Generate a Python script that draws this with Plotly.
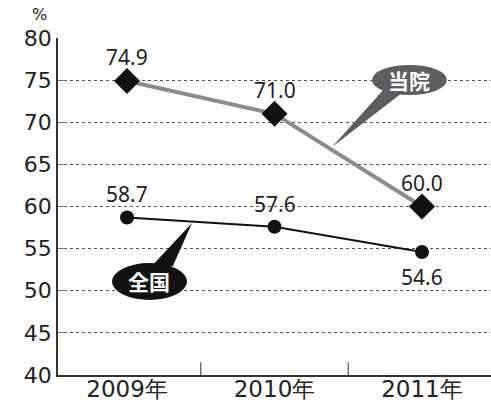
import plotly.graph_objects as go

categories = ["2009年", "2010年", "2011年"]
hospital = [74.9, 71.0, 60.0]
national = [58.7, 57.6, 54.6]
y_ticks = [40, 45, 50, 55, 60, 65, 70, 75, 80]

FONT = "Noto Sans CJK JP"
NUMFONT = "DejaVu Sans"
VALFONT = "Noto Sans"
xs = list(range(len(categories)))

fig = go.Figure()
fig.add_trace(go.Scatter(
    x=xs, y=hospital, mode="lines+markers",
    line=dict(color="#8c8c8c", width=4),
    marker=dict(symbol="diamond", size=20, color="#111111"),
    cliponaxis=False, showlegend=False, hoverinfo="skip"))
fig.add_trace(go.Scatter(
    x=xs, y=national, mode="lines+markers",
    line=dict(color="#111111", width=2),
    marker=dict(symbol="circle", size=14, color="#111111"),
    cliponaxis=False, showlegend=False, hoverinfo="skip"))

shapes = []
# category separators
for sx in [0.5, 1.5]:
    shapes.append(dict(type="line", xref="x", yref="y", x0=sx, x1=sx, y0=40, y1=41.5,
                       line=dict(color="#555555", width=1.2)))
# 当院 callout
shapes.append(dict(type="path", xref="x", yref="y",
                   path="M 1.74,73.9 L 1.86,73.4 L 1.39,67.06 Z",
                   fillcolor="#5e5e5e", line=dict(width=0)))
shapes.append(dict(type="circle", xref="x", yref="y", x0=1.661, x1=2.169, y0=73.23, y1=76.80,
                   fillcolor="#5e5e5e", line=dict(width=0)))
# 全国 callout
shapes.append(dict(type="path", xref="x", yref="y",
                   path="M 0.15,52.6 L 0.31,52.9 L 0.441,58.04 Z",
                   fillcolor="#111111", line=dict(width=0)))
shapes.append(dict(type="circle", xref="x", yref="y", x0=-0.102, x1=0.407, y0=48.90, y1=53.29,
                   fillcolor="#111111", line=dict(width=0)))

annotations = []
for x, v in zip(xs, hospital):
    annotations.append(dict(x=x, y=v, xref="x", yref="y", text=f"{v:.1f}", showarrow=False,
                            yshift=24, font=dict(size=21, color="#222222", family=VALFONT)))
for x, v, s in zip(xs, national, [23, 23, -25]):
    annotations.append(dict(x=x, y=v, xref="x", yref="y", text=f"{v:.1f}", showarrow=False,
                            yshift=s, font=dict(size=21, color="#222222", family=VALFONT)))
annotations += [
    dict(x=1.915, y=75.0, xref="x", yref="y", text="<b>当院</b>", showarrow=False,
         font=dict(size=21, color="white", family=FONT)),
    dict(x=0.152, y=51.1, xref="x", yref="y", text="<b>全国</b>", showarrow=False,
         font=dict(size=21, color="white", family=FONT)),
    dict(x=-0.042, y=1.0, xref="paper", yref="paper", text="%", showarrow=False,
         xanchor="center", yanchor="bottom", yshift=12,
         font=dict(size=16, color="#222222", family=NUMFONT)),
]

fig.update_layout(
    width=491, height=405,
    margin=dict(l=58, r=0, t=38, b=30, autoexpand=False),
    paper_bgcolor="white", plot_bgcolor="white",
    font=dict(family=FONT, color="#222222"),
    shapes=shapes, annotations=annotations,
    xaxis=dict(range=[-0.468, 2.468], tickmode="array", tickvals=xs, ticktext=categories,
               showgrid=False, zeroline=False, showline=True, linecolor="#333333", linewidth=1.5,
               automargin=False, ticklabelstandoff=-7,
               ticks="", tickfont=dict(size=23, family=NUMFONT, color="#222222"), fixedrange=True),
    yaxis=dict(range=[40, 80], tickmode="array", tickvals=y_ticks,
               showgrid=True, gridcolor="#555555", griddash="dot", gridwidth=1,
               zeroline=False, showline=True, linecolor="#333333", linewidth=1.5,
               automargin=False,
               ticks="inside", ticklen=7, tickcolor="#777777",
               tickfont=dict(size=22, family=NUMFONT, color="#222222"), fixedrange=True),
)

fig.write_html("out.html", config={"displayModeBar": False},
               post_script="document.body.style.margin='0';document.body.style.overflow='hidden';")
